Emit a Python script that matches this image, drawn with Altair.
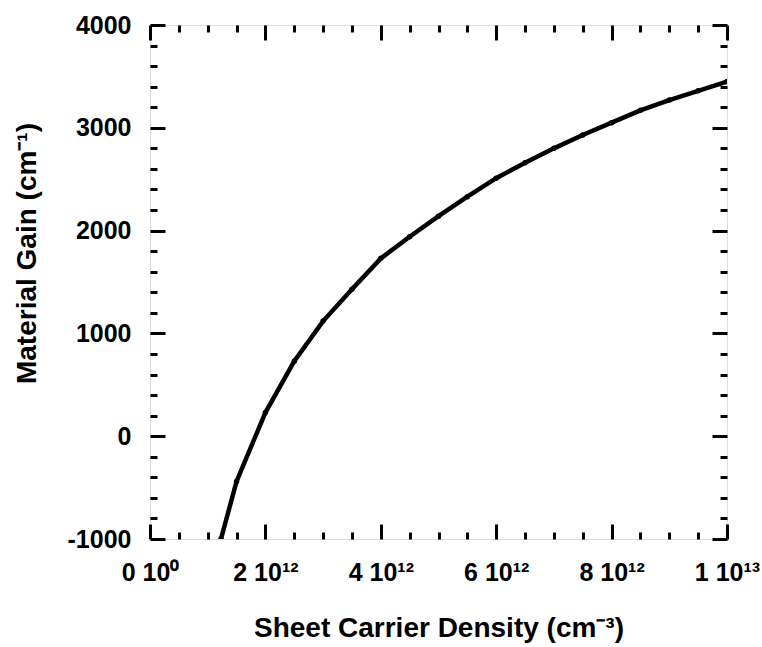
import json
import altair as alt
import pandas as pd

# ---- data ----
density = [1.23e12, 1.5e12, 2.0e12, 2.5e12, 3.0e12, 3.5e12, 4.0e12, 4.5e12, 5.0e12,
           5.5e12, 6.0e12, 6.5e12, 7.0e12, 7.5e12, 8.0e12, 8.5e12, 9.0e12, 9.5e12, 1.0e13]
gain = [-1000, -440, 230, 730, 1120, 1430, 1730, 1940, 2140,
        2330, 2510, 2660, 2800, 2930, 3050, 3170, 3270, 3360, 3450]

x_major = [0, 2e12, 4e12, 6e12, 8e12, 1e13]
x_labels = ["0 10⁰", "2 10¹²", "4 10¹²", "6 10¹²", "8 10¹²", "1 10¹³"]
x_minor = [5e11, 1e12, 1.5e12, 2.5e12, 3e12, 3.5e12, 4.5e12, 5e12, 5.5e12,
           6.5e12, 7e12, 7.5e12, 8.5e12, 9e12, 9.5e12]
y_major = [-1000, 0, 1000, 2000, 3000, 4000]
y_minor = [-800, -600, -400, -200, 200, 400, 600, 800, 1200, 1400, 1600, 1800,
           2200, 2400, 2600, 2800, 3200, 3400, 3600, 3800]

df = pd.DataFrame({"density": density, "gain": gain})

FONT = "Liberation Sans"
MAJ, MIN = 15, 7

x_label_expr = (json.dumps(x_labels, ensure_ascii=False) + "[indexof(" +
                json.dumps([int(v) for v in x_major]) + ", datum.value)]")

xs = alt.Scale(domain=[0, 1e13], nice=False, zero=False)
ys = alt.Scale(domain=[-1000, 4000], nice=False, zero=False)

common = dict(domain=False, grid=False, tickColor="black", tickWidth=3,
              labelFont=FONT, labelFontSize=25, labelFontWeight="bold",
              labelColor="black", titleFont=FONT, titleFontSize=28,
              titleFontWeight="bold", titleColor="black")


def ax(orient, values, size, labels=False, title=None, **kw):
    d = dict(common)
    d.update(kw)
    return alt.Axis(orient=orient, values=values, tickSize=size, offset=-size,
                    labels=labels, title=title, **d)


bottom_major = ax("bottom", x_major, MAJ, labels=True,
                  title="Sheet Carrier Density (cm⁻³)",
                  labelExpr=x_label_expr, labelPadding=21, labelFlush=False,
                  labelOverlap=False, titlePadding=29)
left_major = ax("left", y_major, MAJ, labels=True,
                title="Material Gain (cm⁻¹)", labelPadding=19,
                labelExpr="'' + datum.value", titleY=228,
                labelOverlap=False, labelFlush=False, titlePadding=26)
bottom_minor = ax("bottom", x_minor, MIN)
left_minor = ax("left", y_minor, MIN)
top_major = ax("top", x_major, MAJ)
right_major = ax("right", y_major, MAJ)
top_minor = ax("top", x_minor, MIN)
right_minor = ax("right", y_minor, MIN)

base = alt.Chart(df)

line = base.mark_line(color="black", strokeWidth=4.5, clip=True).encode(
    x=alt.X("density:Q", scale=xs, axis=bottom_major),
    y=alt.Y("gain:Q", scale=ys, axis=left_major),
)
pts = base.mark_point(filled=True, color="black", size=30, opacity=1, clip=True).encode(
    x=alt.X("density:Q", scale=xs, axis=bottom_minor),
    y=alt.Y("gain:Q", scale=ys, axis=left_minor),
)
g3 = base.mark_point(opacity=0).encode(
    x=alt.X("density:Q", scale=xs, axis=top_major),
    y=alt.Y("gain:Q", scale=ys, axis=right_major),
)
g4 = base.mark_point(opacity=0).encode(
    x=alt.X("density:Q", scale=xs, axis=top_minor),
    y=alt.Y("gain:Q", scale=ys, axis=right_minor),
)

chart = (
    alt.layer(line, pts, g3, g4)
    .resolve_axis(x="independent", y="independent")
    .properties(width=577, height=514,
                padding={"left": 150, "top": 25, "right": 35, "bottom": 108},
                autosize=alt.AutoSizeParams(type="none"))
    .configure_view(stroke="black", strokeWidth=3)
    .configure(background="white")
)

chart.save("out.html", embed_options={"renderer": "svg", "actions": False})
